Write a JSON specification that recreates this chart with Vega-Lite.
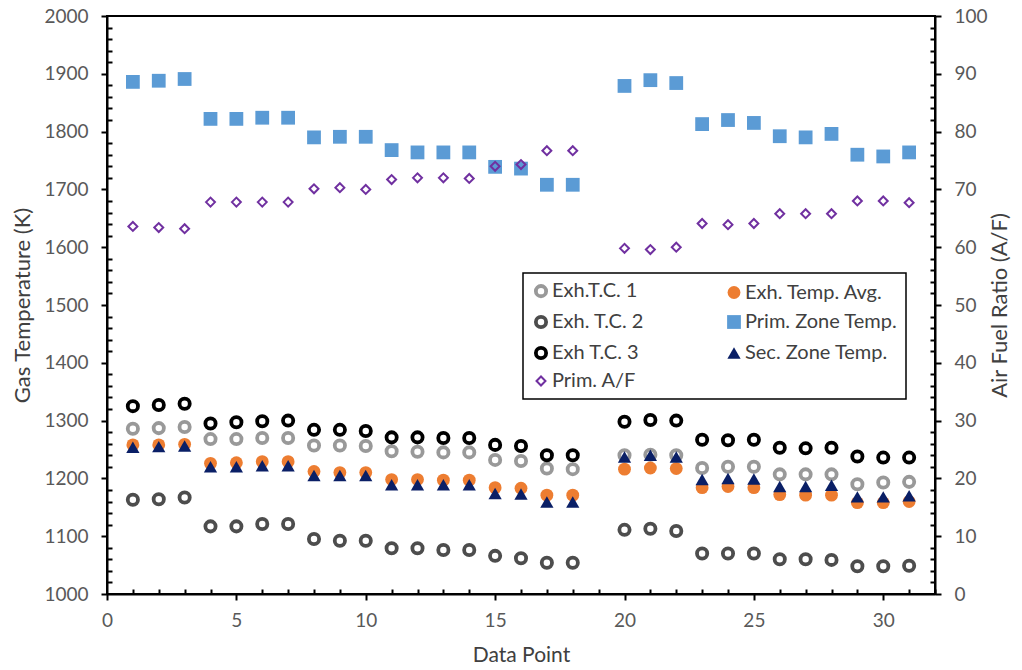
{
  "$schema": "https://vega.github.io/schema/vega-lite/v6.json",
  "width": 828,
  "height": 578,
  "autosize": {"type": "none"},
  "padding": {"left": 107, "top": 16, "right": 87, "bottom": 76},
  "background": "white",
  "config": {
    "view": {"stroke": "black", "strokeWidth": 2},
    "font": "Lato",
    "legend": {
      "orient": "none",
      "legendX": 416,
      "legendY": 257,
      "columns": 2,
      "strokeColor": "black",
      "strokeWidth": 1.5,
      "fillColor": "white",
      "padding": 8,
      "rowPadding": 5,
      "columnPadding": 80,
      "labelFont": "Lato",
      "labelFontSize": 20,
      "labelColor": "#404040",
      "labelOffset": 1
    }
  },
  "data": {
    "values": [
      {"p":1,"s":"Exh.T.C. 1","v":1286},{"p":2,"s":"Exh.T.C. 1","v":1287},{"p":3,"s":"Exh.T.C. 1","v":1289},{"p":4,"s":"Exh.T.C. 1","v":1268},{"p":5,"s":"Exh.T.C. 1","v":1268},{"p":6,"s":"Exh.T.C. 1","v":1270},{"p":7,"s":"Exh.T.C. 1","v":1270},{"p":8,"s":"Exh.T.C. 1","v":1257},{"p":9,"s":"Exh.T.C. 1","v":1257},{"p":10,"s":"Exh.T.C. 1","v":1256},{"p":11,"s":"Exh.T.C. 1","v":1247},{"p":12,"s":"Exh.T.C. 1","v":1246},{"p":13,"s":"Exh.T.C. 1","v":1245},{"p":14,"s":"Exh.T.C. 1","v":1245},{"p":15,"s":"Exh.T.C. 1","v":1232},{"p":16,"s":"Exh.T.C. 1","v":1230},{"p":17,"s":"Exh.T.C. 1","v":1217},{"p":18,"s":"Exh.T.C. 1","v":1216},{"p":20,"s":"Exh.T.C. 1","v":1240},{"p":21,"s":"Exh.T.C. 1","v":1241},{"p":22,"s":"Exh.T.C. 1","v":1240},{"p":23,"s":"Exh.T.C. 1","v":1218},{"p":24,"s":"Exh.T.C. 1","v":1220},{"p":25,"s":"Exh.T.C. 1","v":1220},{"p":26,"s":"Exh.T.C. 1","v":1207},{"p":27,"s":"Exh.T.C. 1","v":1207},{"p":28,"s":"Exh.T.C. 1","v":1207},{"p":29,"s":"Exh.T.C. 1","v":1190},{"p":30,"s":"Exh.T.C. 1","v":1193},{"p":31,"s":"Exh.T.C. 1","v":1194},
      {"p":1,"s":"Exh. T.C. 2","v":1163},{"p":2,"s":"Exh. T.C. 2","v":1164},{"p":3,"s":"Exh. T.C. 2","v":1167},{"p":4,"s":"Exh. T.C. 2","v":1117},{"p":5,"s":"Exh. T.C. 2","v":1117},{"p":6,"s":"Exh. T.C. 2","v":1121},{"p":7,"s":"Exh. T.C. 2","v":1121},{"p":8,"s":"Exh. T.C. 2","v":1095},{"p":9,"s":"Exh. T.C. 2","v":1092},{"p":10,"s":"Exh. T.C. 2","v":1092},{"p":11,"s":"Exh. T.C. 2","v":1079},{"p":12,"s":"Exh. T.C. 2","v":1079},{"p":13,"s":"Exh. T.C. 2","v":1076},{"p":14,"s":"Exh. T.C. 2","v":1076},{"p":15,"s":"Exh. T.C. 2","v":1066},{"p":16,"s":"Exh. T.C. 2","v":1062},{"p":17,"s":"Exh. T.C. 2","v":1054},{"p":18,"s":"Exh. T.C. 2","v":1054},{"p":20,"s":"Exh. T.C. 2","v":1111},{"p":21,"s":"Exh. T.C. 2","v":1113},{"p":22,"s":"Exh. T.C. 2","v":1109},{"p":23,"s":"Exh. T.C. 2","v":1070},{"p":24,"s":"Exh. T.C. 2","v":1070},{"p":25,"s":"Exh. T.C. 2","v":1070},{"p":26,"s":"Exh. T.C. 2","v":1060},{"p":27,"s":"Exh. T.C. 2","v":1060},{"p":28,"s":"Exh. T.C. 2","v":1059},{"p":29,"s":"Exh. T.C. 2","v":1048},{"p":30,"s":"Exh. T.C. 2","v":1048},{"p":31,"s":"Exh. T.C. 2","v":1049},
      {"p":1,"s":"Exh T.C. 3","v":1325},{"p":2,"s":"Exh T.C. 3","v":1327},{"p":3,"s":"Exh T.C. 3","v":1329},{"p":4,"s":"Exh T.C. 3","v":1295},{"p":5,"s":"Exh T.C. 3","v":1297},{"p":6,"s":"Exh T.C. 3","v":1299},{"p":7,"s":"Exh T.C. 3","v":1300},{"p":8,"s":"Exh T.C. 3","v":1284},{"p":9,"s":"Exh T.C. 3","v":1284},{"p":10,"s":"Exh T.C. 3","v":1282},{"p":11,"s":"Exh T.C. 3","v":1271},{"p":12,"s":"Exh T.C. 3","v":1271},{"p":13,"s":"Exh T.C. 3","v":1270},{"p":14,"s":"Exh T.C. 3","v":1270},{"p":15,"s":"Exh T.C. 3","v":1258},{"p":16,"s":"Exh T.C. 3","v":1256},{"p":17,"s":"Exh T.C. 3","v":1240},{"p":18,"s":"Exh T.C. 3","v":1240},{"p":20,"s":"Exh T.C. 3","v":1298},{"p":21,"s":"Exh T.C. 3","v":1301},{"p":22,"s":"Exh T.C. 3","v":1300},{"p":23,"s":"Exh T.C. 3","v":1267},{"p":24,"s":"Exh T.C. 3","v":1266},{"p":25,"s":"Exh T.C. 3","v":1267},{"p":26,"s":"Exh T.C. 3","v":1253},{"p":27,"s":"Exh T.C. 3","v":1252},{"p":28,"s":"Exh T.C. 3","v":1253},{"p":29,"s":"Exh T.C. 3","v":1238},{"p":30,"s":"Exh T.C. 3","v":1236},{"p":31,"s":"Exh T.C. 3","v":1236},
      {"p":1,"s":"Exh. Temp. Avg.","v":1258},{"p":2,"s":"Exh. Temp. Avg.","v":1258},{"p":3,"s":"Exh. Temp. Avg.","v":1259},{"p":4,"s":"Exh. Temp. Avg.","v":1226},{"p":5,"s":"Exh. Temp. Avg.","v":1227},{"p":6,"s":"Exh. Temp. Avg.","v":1229},{"p":7,"s":"Exh. Temp. Avg.","v":1229},{"p":8,"s":"Exh. Temp. Avg.","v":1212},{"p":9,"s":"Exh. Temp. Avg.","v":1210},{"p":10,"s":"Exh. Temp. Avg.","v":1210},{"p":11,"s":"Exh. Temp. Avg.","v":1198},{"p":12,"s":"Exh. Temp. Avg.","v":1198},{"p":13,"s":"Exh. Temp. Avg.","v":1197},{"p":14,"s":"Exh. Temp. Avg.","v":1197},{"p":15,"s":"Exh. Temp. Avg.","v":1184},{"p":16,"s":"Exh. Temp. Avg.","v":1183},{"p":17,"s":"Exh. Temp. Avg.","v":1171},{"p":18,"s":"Exh. Temp. Avg.","v":1171},{"p":20,"s":"Exh. Temp. Avg.","v":1216},{"p":21,"s":"Exh. Temp. Avg.","v":1218},{"p":22,"s":"Exh. Temp. Avg.","v":1217},{"p":23,"s":"Exh. Temp. Avg.","v":1184},{"p":24,"s":"Exh. Temp. Avg.","v":1186},{"p":25,"s":"Exh. Temp. Avg.","v":1184},{"p":26,"s":"Exh. Temp. Avg.","v":1172},{"p":27,"s":"Exh. Temp. Avg.","v":1171},{"p":28,"s":"Exh. Temp. Avg.","v":1171},{"p":29,"s":"Exh. Temp. Avg.","v":1158},{"p":30,"s":"Exh. Temp. Avg.","v":1158},{"p":31,"s":"Exh. Temp. Avg.","v":1160},
      {"p":1,"s":"Prim. Zone Temp.","v":1886},{"p":2,"s":"Prim. Zone Temp.","v":1888},{"p":3,"s":"Prim. Zone Temp.","v":1891},{"p":4,"s":"Prim. Zone Temp.","v":1822},{"p":5,"s":"Prim. Zone Temp.","v":1822},{"p":6,"s":"Prim. Zone Temp.","v":1824},{"p":7,"s":"Prim. Zone Temp.","v":1824},{"p":8,"s":"Prim. Zone Temp.","v":1790},{"p":9,"s":"Prim. Zone Temp.","v":1791},{"p":10,"s":"Prim. Zone Temp.","v":1791},{"p":11,"s":"Prim. Zone Temp.","v":1768},{"p":12,"s":"Prim. Zone Temp.","v":1764},{"p":13,"s":"Prim. Zone Temp.","v":1764},{"p":14,"s":"Prim. Zone Temp.","v":1764},{"p":15,"s":"Prim. Zone Temp.","v":1739},{"p":16,"s":"Prim. Zone Temp.","v":1736},{"p":17,"s":"Prim. Zone Temp.","v":1708},{"p":18,"s":"Prim. Zone Temp.","v":1708},{"p":20,"s":"Prim. Zone Temp.","v":1879},{"p":21,"s":"Prim. Zone Temp.","v":1889},{"p":22,"s":"Prim. Zone Temp.","v":1884},{"p":23,"s":"Prim. Zone Temp.","v":1813},{"p":24,"s":"Prim. Zone Temp.","v":1820},{"p":25,"s":"Prim. Zone Temp.","v":1815},{"p":26,"s":"Prim. Zone Temp.","v":1792},{"p":27,"s":"Prim. Zone Temp.","v":1790},{"p":28,"s":"Prim. Zone Temp.","v":1796},{"p":29,"s":"Prim. Zone Temp.","v":1760},{"p":30,"s":"Prim. Zone Temp.","v":1757},{"p":31,"s":"Prim. Zone Temp.","v":1764},
      {"p":1,"s":"Sec. Zone Temp.","v":1254},{"p":2,"s":"Sec. Zone Temp.","v":1255},{"p":3,"s":"Sec. Zone Temp.","v":1256},{"p":4,"s":"Sec. Zone Temp.","v":1220},{"p":5,"s":"Sec. Zone Temp.","v":1220},{"p":6,"s":"Sec. Zone Temp.","v":1222},{"p":7,"s":"Sec. Zone Temp.","v":1222},{"p":8,"s":"Sec. Zone Temp.","v":1205},{"p":9,"s":"Sec. Zone Temp.","v":1205},{"p":10,"s":"Sec. Zone Temp.","v":1205},{"p":11,"s":"Sec. Zone Temp.","v":1189},{"p":12,"s":"Sec. Zone Temp.","v":1189},{"p":13,"s":"Sec. Zone Temp.","v":1189},{"p":14,"s":"Sec. Zone Temp.","v":1189},{"p":15,"s":"Sec. Zone Temp.","v":1174},{"p":16,"s":"Sec. Zone Temp.","v":1173},{"p":17,"s":"Sec. Zone Temp.","v":1159},{"p":18,"s":"Sec. Zone Temp.","v":1159},{"p":20,"s":"Sec. Zone Temp.","v":1237},{"p":21,"s":"Sec. Zone Temp.","v":1240},{"p":22,"s":"Sec. Zone Temp.","v":1237},{"p":23,"s":"Sec. Zone Temp.","v":1198},{"p":24,"s":"Sec. Zone Temp.","v":1200},{"p":25,"s":"Sec. Zone Temp.","v":1199},{"p":26,"s":"Sec. Zone Temp.","v":1186},{"p":27,"s":"Sec. Zone Temp.","v":1186},{"p":28,"s":"Sec. Zone Temp.","v":1188},{"p":29,"s":"Sec. Zone Temp.","v":1168},{"p":30,"s":"Sec. Zone Temp.","v":1168},{"p":31,"s":"Sec. Zone Temp.","v":1170},
      {"p":1,"s":"Prim. A/F","v":63.6},{"p":2,"s":"Prim. A/F","v":63.4},{"p":3,"s":"Prim. A/F","v":63.2},{"p":4,"s":"Prim. A/F","v":67.8},{"p":5,"s":"Prim. A/F","v":67.8},{"p":6,"s":"Prim. A/F","v":67.8},{"p":7,"s":"Prim. A/F","v":67.8},{"p":8,"s":"Prim. A/F","v":70.1},{"p":9,"s":"Prim. A/F","v":70.3},{"p":10,"s":"Prim. A/F","v":70.0},{"p":11,"s":"Prim. A/F","v":71.7},{"p":12,"s":"Prim. A/F","v":72.0},{"p":13,"s":"Prim. A/F","v":72.0},{"p":14,"s":"Prim. A/F","v":71.9},{"p":15,"s":"Prim. A/F","v":74.0},{"p":16,"s":"Prim. A/F","v":74.3},{"p":17,"s":"Prim. A/F","v":76.7},{"p":18,"s":"Prim. A/F","v":76.7},{"p":20,"s":"Prim. A/F","v":59.8},{"p":21,"s":"Prim. A/F","v":59.6},{"p":22,"s":"Prim. A/F","v":60.0},{"p":23,"s":"Prim. A/F","v":64.1},{"p":24,"s":"Prim. A/F","v":63.9},{"p":25,"s":"Prim. A/F","v":64.1},{"p":26,"s":"Prim. A/F","v":65.8},{"p":27,"s":"Prim. A/F","v":65.8},{"p":28,"s":"Prim. A/F","v":65.8},{"p":29,"s":"Prim. A/F","v":68.0},{"p":30,"s":"Prim. A/F","v":68.0},{"p":31,"s":"Prim. A/F","v":67.7}
    ]
  },
  "encoding": {
    "x": {
      "field": "p",
      "type": "quantitative",
      "scale": {"domain": [0, 32], "nice": false},
      "axis": {
        "title": "Data Point",
        "values": [0,1,2,3,4,5,6,7,8,9,10,11,12,13,14,15,16,17,18,19,20,21,22,23,24,25,26,27,28,29,30,31,32],
        "labelExpr": "datum.value % 5 === 0 ? datum.label : ''",
        "labelOverlap": false,
        "labelFlush": false,
        "grid": false,
        "domainColor": "black",
        "domainWidth": 2,
        "tickColor": "black",
        "tickWidth": 2,
        "tickSize": {"condition": {"test": "datum.value % 5 === 0", "value": 6}, "value": -5},
        "labelPadding": 11,
        "labelFont": "Lato",
        "labelFontSize": 19,
        "labelColor": "#595959",
        "titleFont": "Lato",
        "titleFontSize": 21,
        "titleFontWeight": "normal",
        "titleColor": "#404040",
        "titlePadding": 14
      }
    },
    "shape": {
      "field": "s", "type": "nominal", "title": null,
      "scale": {
        "domain": ["Exh.T.C. 1", "Exh. T.C. 2", "Exh T.C. 3", "Prim. A/F", "Exh. Temp. Avg.", "Prim. Zone Temp.", "Sec. Zone Temp."],
        "range": ["circle", "circle", "circle", "diamond", "circle", "square", "triangle-up"]
      }
    },
    "fill": {
      "field": "s", "type": "nominal", "title": null,
      "scale": {
        "domain": ["Exh.T.C. 1", "Exh. T.C. 2", "Exh T.C. 3", "Prim. A/F", "Exh. Temp. Avg.", "Prim. Zone Temp.", "Sec. Zone Temp."],
        "range": ["transparent", "transparent", "transparent", "transparent", "#ED7D31", "#5B9BD5", "#0A1F66"]
      }
    },
    "stroke": {
      "field": "s", "type": "nominal", "title": null,
      "scale": {
        "domain": ["Exh.T.C. 1", "Exh. T.C. 2", "Exh T.C. 3", "Prim. A/F", "Exh. Temp. Avg.", "Prim. Zone Temp.", "Sec. Zone Temp."],
        "range": ["#999999", "#4D4D4D", "#000000", "#7030A0", "#ED7D31", "#5B9BD5", "#0A1F66"]
      }
    },
    "size": {
      "field": "s", "type": "nominal", "title": null,
      "scale": {
        "type": "ordinal",
        "domain": ["Exh.T.C. 1", "Exh. T.C. 2", "Exh T.C. 3", "Prim. A/F", "Exh. Temp. Avg.", "Prim. Zone Temp.", "Sec. Zone Temp."],
        "range": [105, 105, 105, 80, 165, 190, 175]
      }
    },
    "strokeWidth": {
      "field": "s", "type": "nominal", "title": null,
      "scale": {
        "type": "ordinal",
        "domain": ["Exh.T.C. 1", "Exh. T.C. 2", "Exh T.C. 3", "Prim. A/F", "Exh. Temp. Avg.", "Prim. Zone Temp.", "Sec. Zone Temp."],
        "range": [3.8, 3.8, 3.8, 2, 0, 0, 0]
      }
    }
  },
  "layer": [
    {
      "transform": [{"filter": "datum.s !== 'Prim. A/F'"}],
      "mark": {"type": "point", "opacity": 1},
      "encoding": {
        "y": {
          "field": "v",
          "type": "quantitative",
          "scale": {"domain": [1000, 2000], "nice": false, "zero": false},
          "axis": {
            "title": "Gas Temperature (K)",
            "orient": "left",
            "values": [1000,1020,1040,1060,1080,1100,1120,1140,1160,1180,1200,1220,1240,1260,1280,1300,1320,1340,1360,1380,1400,1420,1440,1460,1480,1500,1520,1540,1560,1580,1600,1620,1640,1660,1680,1700,1720,1740,1760,1780,1800,1820,1840,1860,1880,1900,1920,1940,1960,1980,2000],
            "labelExpr": "datum.value % 100 === 0 ? datum.label : ''",
            "format": "d",
            "labelOverlap": false,
            "labelFlush": false,
            "grid": false,
            "domainColor": "black",
            "domainWidth": 2,
            "tickColor": "black",
            "tickWidth": 2,
            "tickSize": {"condition": {"test": "datum.value % 100 === 0", "value": 6}, "value": -5},
            "labelPadding": 13,
            "labelFont": "Lato",
            "labelFontSize": 19,
            "labelColor": "#595959",
            "titleFont": "Lato",
            "titleFontSize": 22,
            "titleFontWeight": "normal",
            "titleColor": "#404040",
            "titlePadding": 9
          }
        }
      }
    },
    {
      "transform": [{"filter": "datum.s === 'Prim. A/F'"}],
      "mark": {"type": "point", "opacity": 1},
      "encoding": {
        "y": {
          "field": "v",
          "type": "quantitative",
          "scale": {"domain": [0, 100], "nice": false},
          "axis": {
            "title": "Air Fuel Ratio (A/F)",
            "orient": "right",
            "values": [0,2,4,6,8,10,12,14,16,18,20,22,24,26,28,30,32,34,36,38,40,42,44,46,48,50,52,54,56,58,60,62,64,66,68,70,72,74,76,78,80,82,84,86,88,90,92,94,96,98,100],
            "labelExpr": "datum.value % 10 === 0 ? datum.label : ''",
            "labelOverlap": false,
            "labelFlush": false,
            "grid": false,
            "domainColor": "black",
            "domainWidth": 2,
            "tickColor": "black",
            "tickWidth": 2,
            "tickSize": {"condition": {"test": "datum.value % 10 === 0", "value": 6}, "value": -5},
            "labelPadding": 13,
            "labelFont": "Lato",
            "labelFontSize": 19,
            "labelColor": "#595959",
            "titleFont": "Lato",
            "titleFontSize": 22,
            "titleFontWeight": "normal",
            "titleColor": "#404040",
            "titleAngle": 270,
            "titlePadding": 24
          }
        }
      }
    }
  ],
  "resolve": {"scale": {"y": "independent"}, "axis": {"y": "independent"}}
}
